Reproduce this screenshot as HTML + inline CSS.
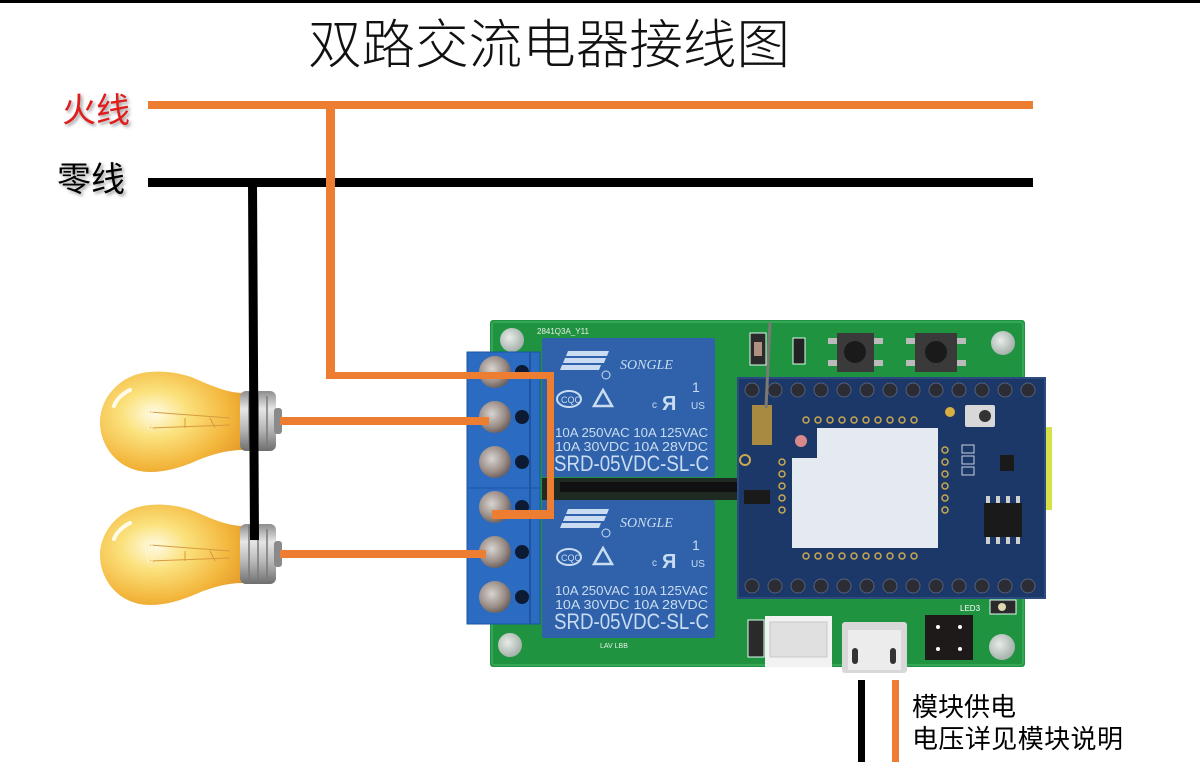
<!DOCTYPE html>
<html><head><meta charset="utf-8"><style>
html,body{margin:0;padding:0;background:#fff;}
svg{display:block;}
</style></head><body>
<svg width="1200" height="775" viewBox="0 0 1200 775" xmlns="http://www.w3.org/2000/svg">
<defs>
<radialGradient id="glass" cx="0.38" cy="0.42" r="0.75">
<stop offset="0" stop-color="#fffbe6"/>
<stop offset="0.3" stop-color="#fbe27e"/>
<stop offset="0.7" stop-color="#f3b63c"/>
<stop offset="1" stop-color="#e09325"/>
</radialGradient>
<linearGradient id="metal" x1="0" y1="0" x2="0" y2="1">
<stop offset="0" stop-color="#8c8c8c"/>
<stop offset="0.3" stop-color="#e6e6e6"/>
<stop offset="0.65" stop-color="#b4b4b4"/>
<stop offset="1" stop-color="#6e6e6e"/>
</linearGradient>
<radialGradient id="screw" cx="0.4" cy="0.4" r="0.7">
<stop offset="0" stop-color="#d8d4d0"/>
<stop offset="0.6" stop-color="#9a8c86"/>
<stop offset="1" stop-color="#5a5050"/>
</radialGradient>
<radialGradient id="hole" cx="0.4" cy="0.4" r="0.7">
<stop offset="0" stop-color="#e8ece8"/>
<stop offset="1" stop-color="#9aa8a0"/>
</radialGradient>
<filter id="sh" x="-20%" y="-20%" width="140%" height="140%"><feGaussianBlur stdDeviation="1.5"/></filter>
</defs>

<!-- top border -->
<rect x="0" y="0" width="1200" height="3" fill="#000"/>

<!-- title -->
<text x="308" y="63" font-family="'Liberation Sans','Noto Sans CJK SC',sans-serif" font-size="53" font-weight="300" textLength="482" lengthAdjust="spacingAndGlyphs" fill="#111">双路交流电器接线图</text>

<!-- labels -->
<text x="64" y="124" font-family="'Liberation Sans','Noto Sans CJK SC',sans-serif" font-size="34" fill="#999" filter="url(#sh)">火线</text>
<text x="62" y="122" font-family="'Liberation Sans','Noto Sans CJK SC',sans-serif" font-size="34" fill="#e01c1c">火线</text>
<text x="59" y="193" font-family="'Liberation Sans','Noto Sans CJK SC',sans-serif" font-size="34" fill="#999" filter="url(#sh)">零线</text>
<text x="57" y="191" font-family="'Liberation Sans','Noto Sans CJK SC',sans-serif" font-size="34" fill="#000">零线</text>

<!-- main lines -->
<rect x="148" y="101" width="885" height="8" fill="#ed7d31"/>
<rect x="148" y="178" width="885" height="9" fill="#000"/>
<rect x="326" y="105" width="9" height="274" fill="#ed7d31"/>

<!-- PCB -->
<rect x="490" y="320" width="535" height="347" rx="3" fill="#1f9340"/>
<rect x="492" y="322" width="531" height="343" rx="3" fill="none" stroke="#35a655" stroke-width="2"/>
<circle cx="512" cy="340" r="12" fill="url(#hole)"/>
<circle cx="510" cy="645" r="12" fill="url(#hole)"/>
<circle cx="1003" cy="343" r="12" fill="url(#hole)"/>
<circle cx="1002" cy="647" r="13" fill="url(#hole)"/>
<text x="537" y="334" font-family="'Liberation Sans',sans-serif" font-size="8" fill="#e8f0e8">2841Q3A_Y11</text>
<text x="600" y="648" font-family="'Liberation Sans',sans-serif" font-size="7" fill="#e8f0e8">LAV LBB</text>

<!-- LEDs / resistor near top -->
<rect x="750" y="333" width="16" height="32" fill="#2a2a2a" stroke="#dfe" stroke-width="1"/>
<rect x="754" y="342" width="8" height="14" fill="#b09080"/>
<rect x="793" y="338" width="12" height="26" fill="#222" stroke="#dfe" stroke-width="1"/>
<!-- buttons -->
<rect x="837" y="333" width="37" height="39" fill="#3a3a3a"/>
<circle cx="855" cy="352" r="11" fill="#1a1a1a"/>
<rect x="828" y="338" width="9" height="6" fill="#bbb"/><rect x="874" y="338" width="9" height="6" fill="#bbb"/>
<rect x="828" y="360" width="9" height="6" fill="#bbb"/><rect x="874" y="360" width="9" height="6" fill="#bbb"/>
<rect x="915" y="333" width="42" height="39" fill="#3a3a3a"/>
<circle cx="936" cy="352" r="11" fill="#1a1a1a"/>
<rect x="906" y="338" width="9" height="6" fill="#bbb"/><rect x="957" y="338" width="9" height="6" fill="#bbb"/>
<rect x="906" y="360" width="9" height="6" fill="#bbb"/><rect x="957" y="360" width="9" height="6" fill="#bbb"/>

<!-- bottom connectors -->
<rect x="748" y="620" width="16" height="37" fill="#2a2a2a" stroke="#dfe" stroke-width="1"/>
<rect x="765" y="616" width="67" height="51" fill="#f2f2f2"/>
<rect x="770" y="622" width="57" height="35" fill="#e0e0e0" stroke="#c8c8c8"/>
<rect x="842" y="622" width="65" height="51" rx="3" fill="#d8d8d8"/>
<rect x="848" y="630" width="53" height="40" fill="#ececec"/>
<rect x="852" y="648" width="6" height="16" rx="3" fill="#333"/>
<rect x="890" y="648" width="6" height="16" rx="3" fill="#333"/>
<rect x="925" y="615" width="48" height="45" fill="#1e1a1a"/>
<circle cx="938" cy="627" r="2" fill="#fff"/><circle cx="960" cy="627" r="2" fill="#fff"/>
<circle cx="938" cy="649" r="2" fill="#fff"/><circle cx="960" cy="649" r="2" fill="#fff"/>
<rect x="990" y="600" width="26" height="14" fill="#2a2a2a" stroke="#dfe" stroke-width="1"/>
<circle cx="1002" cy="607" r="4" fill="#e0d8b0"/>
<text x="960" y="611" font-family="'Liberation Sans',sans-serif" font-size="8" fill="#fff">LED3</text>

<!-- terminal block -->
<rect x="467" y="352" width="73" height="272" fill="#2b6cc2"/>
<rect x="467" y="352" width="73" height="272" fill="none" stroke="#1d55a0" stroke-width="1"/>
<line x1="530" y1="352" x2="530" y2="624" stroke="#1d55a0" stroke-width="2"/>
<line x1="467" y1="488" x2="540" y2="488" stroke="#1d55a0" stroke-width="1"/>
<g>
<circle cx="495" cy="372" r="16" fill="url(#screw)"/><circle cx="522" cy="372" r="7" fill="#0d1a33"/>
<circle cx="495" cy="417" r="16" fill="url(#screw)"/><circle cx="522" cy="417" r="7" fill="#0d1a33"/>
<circle cx="495" cy="462" r="16" fill="url(#screw)"/><circle cx="522" cy="462" r="7" fill="#0d1a33"/>
<circle cx="495" cy="507" r="16" fill="url(#screw)"/><circle cx="522" cy="507" r="7" fill="#0d1a33"/>
<circle cx="495" cy="552" r="16" fill="url(#screw)"/><circle cx="522" cy="552" r="7" fill="#0d1a33"/>
<circle cx="495" cy="597" r="16" fill="url(#screw)"/><circle cx="522" cy="597" r="7" fill="#0d1a33"/>
</g>

<!-- dark gap between relays -->
<rect x="542" y="478" width="200" height="22" fill="#1e2a22"/>
<rect x="560" y="482" width="180" height="10" fill="#111"/>

<!-- relay 1 -->
<g font-family="'Liberation Sans',sans-serif" fill="#c9dcf2">
<rect x="542" y="338" width="173" height="139" rx="2" fill="#2f62aa"/>
<polygon points="568,351 609,351 607,356 566,356" fill="#c9dcf2"/>
<polygon points="565,358 606,358 604,363 563,363" fill="#c9dcf2"/>
<polygon points="562,365 601,365 599,370 560,370" fill="#c9dcf2"/>
<circle cx="606" cy="375" r="4" fill="none" stroke="#c9dcf2" stroke-width="1"/>
<text x="620" y="369" font-family="'Liberation Serif',serif" font-style="italic" font-size="14">SONGLE</text>
<ellipse cx="569" cy="399" rx="12" ry="8" fill="none" stroke="#c9dcf2" stroke-width="2"/>
<text x="561" y="403" font-size="9">CQC</text>
<polygon points="594,406 603,390 612,406" fill="none" stroke="#c9dcf2" stroke-width="2.5"/>
<text x="652" y="408" font-size="10">c</text>
<text x="662" y="410" font-size="20" font-weight="bold">Я</text>
<text x="692" y="392" font-size="14">1</text>
<text x="691" y="409" font-size="10">US</text>
<text x="555" y="437" font-size="13" textLength="153" lengthAdjust="spacingAndGlyphs">10A 250VAC  10A 125VAC</text>
<text x="555" y="451" font-size="13" textLength="153" lengthAdjust="spacingAndGlyphs">10A  30VDC  10A  28VDC</text>
<text x="554" y="471" font-size="22" textLength="155" lengthAdjust="spacingAndGlyphs">SRD-05VDC-SL-C</text>
</g>
<!-- relay 2 -->
<g font-family="'Liberation Sans',sans-serif" fill="#c9dcf2" transform="translate(0,158)">
<rect x="542" y="342" width="173" height="138" rx="2" fill="#2f62aa"/>
<polygon points="568,351 609,351 607,356 566,356" fill="#c9dcf2"/>
<polygon points="565,358 606,358 604,363 563,363" fill="#c9dcf2"/>
<polygon points="562,365 601,365 599,370 560,370" fill="#c9dcf2"/>
<circle cx="606" cy="375" r="4" fill="none" stroke="#c9dcf2" stroke-width="1"/>
<text x="620" y="369" font-family="'Liberation Serif',serif" font-style="italic" font-size="14">SONGLE</text>
<ellipse cx="569" cy="399" rx="12" ry="8" fill="none" stroke="#c9dcf2" stroke-width="2"/>
<text x="561" y="403" font-size="9">CQC</text>
<polygon points="594,406 603,390 612,406" fill="none" stroke="#c9dcf2" stroke-width="2.5"/>
<text x="652" y="408" font-size="10">c</text>
<text x="662" y="410" font-size="20" font-weight="bold">Я</text>
<text x="692" y="392" font-size="14">1</text>
<text x="691" y="409" font-size="10">US</text>
<text x="555" y="437" font-size="13" textLength="153" lengthAdjust="spacingAndGlyphs">10A 250VAC  10A 125VAC</text>
<text x="555" y="451" font-size="13" textLength="153" lengthAdjust="spacingAndGlyphs">10A  30VDC  10A  28VDC</text>
<text x="554" y="471" font-size="22" textLength="155" lengthAdjust="spacingAndGlyphs">SRD-05VDC-SL-C</text>
</g>

<!-- module -->
<rect x="1044" y="427" width="8" height="83" fill="#d6e048"/>
<rect x="738" y="378" width="307" height="220" fill="#1c3868"/>
<rect x="738" y="378" width="307" height="220" fill="none" stroke="#2a4a80" stroke-width="2"/>
<g fill="#2c2c34" stroke="#55607a" stroke-width="1">
<circle cx="752" cy="390" r="7"/><circle cx="775" cy="390" r="7"/><circle cx="798" cy="390" r="7"/><circle cx="821" cy="390" r="7"/><circle cx="844" cy="390" r="7"/><circle cx="867" cy="390" r="7"/><circle cx="890" cy="390" r="7"/><circle cx="913" cy="390" r="7"/><circle cx="936" cy="390" r="7"/><circle cx="959" cy="390" r="7"/><circle cx="982" cy="390" r="7"/><circle cx="1005" cy="390" r="7"/><circle cx="1028" cy="390" r="7"/>
<circle cx="752" cy="586" r="7"/><circle cx="775" cy="586" r="7"/><circle cx="798" cy="586" r="7"/><circle cx="821" cy="586" r="7"/><circle cx="844" cy="586" r="7"/><circle cx="867" cy="586" r="7"/><circle cx="890" cy="586" r="7"/><circle cx="913" cy="586" r="7"/><circle cx="936" cy="586" r="7"/><circle cx="959" cy="586" r="7"/><circle cx="982" cy="586" r="7"/><circle cx="1005" cy="586" r="7"/><circle cx="1028" cy="586" r="7"/>
</g>
<!-- shield -->
<path d="M817,428 H938 V548 H792 V458 H817 Z" fill="#e4eaf0"/>
<g fill="none" stroke="#c8a850" stroke-width="1.5">
<circle cx="806" cy="420" r="3"/><circle cx="818" cy="420" r="3"/><circle cx="830" cy="420" r="3"/><circle cx="842" cy="420" r="3"/><circle cx="854" cy="420" r="3"/><circle cx="866" cy="420" r="3"/><circle cx="878" cy="420" r="3"/><circle cx="890" cy="420" r="3"/><circle cx="902" cy="420" r="3"/><circle cx="914" cy="420" r="3"/>
<circle cx="806" cy="556" r="3"/><circle cx="818" cy="556" r="3"/><circle cx="830" cy="556" r="3"/><circle cx="842" cy="556" r="3"/><circle cx="854" cy="556" r="3"/><circle cx="866" cy="556" r="3"/><circle cx="878" cy="556" r="3"/><circle cx="890" cy="556" r="3"/><circle cx="902" cy="556" r="3"/><circle cx="914" cy="556" r="3"/>
<circle cx="945" cy="450" r="3"/><circle cx="945" cy="462" r="3"/><circle cx="945" cy="474" r="3"/><circle cx="945" cy="486" r="3"/><circle cx="945" cy="498" r="3"/><circle cx="945" cy="510" r="3"/>
<circle cx="782" cy="462" r="3"/><circle cx="782" cy="474" r="3"/><circle cx="782" cy="486" r="3"/><circle cx="782" cy="498" r="3"/><circle cx="782" cy="510" r="3"/>
</g>
<circle cx="801" cy="441" r="6" fill="#d88a8a"/>
<rect x="752" y="405" width="20" height="40" fill="#a88a40"/>
<circle cx="745" cy="460" r="5" fill="none" stroke="#c8a850" stroke-width="2"/>
<line x1="770" y1="322" x2="766" y2="408" stroke="#7a7a72" stroke-width="3"/>
<circle cx="950" cy="412" r="5" fill="#d8b040"/>
<rect x="965" y="405" width="30" height="22" rx="2" fill="#d8d8d8"/>
<circle cx="985" cy="416" r="6" fill="#333"/>
<rect x="984" y="503" width="38" height="34" fill="#1a1a1a"/>
<g fill="#d0d0d0"><rect x="986" y="496" width="4" height="7"/><rect x="996" y="496" width="4" height="7"/><rect x="1006" y="496" width="4" height="7"/><rect x="1016" y="496" width="4" height="7"/>
<rect x="986" y="537" width="4" height="7"/><rect x="996" y="537" width="4" height="7"/><rect x="1006" y="537" width="4" height="7"/><rect x="1016" y="537" width="4" height="7"/></g>
<rect x="1000" y="455" width="14" height="16" fill="#1a1a1a"/>
<rect x="744" y="490" width="26" height="14" fill="#1a1a1a"/>
<g fill="none" stroke="#c8d0e0" stroke-width="1"><rect x="962" y="445" width="12" height="8"/><rect x="962" y="456" width="12" height="8"/><rect x="962" y="467" width="12" height="8"/></g>

<!-- bulbs -->
<g>
<path d="M243,393 C228,393 212,386 196,379 C180,372 162,371 150,372 C120,374 100,398 100,422 C100,448 120,472 150,472 C165,472 180,468 196,461 C212,454 228,450 243,450 Z" fill="url(#glass)"/>
<path d="M130,390 C122,394 116,400 114,406" stroke="#fffbe8" stroke-width="4" fill="none" stroke-linecap="round"/>
<path d="M150,412 L230,418 M150,428 L230,425 M185,418 L185,428 M210,418 L215,428" stroke="#d89a40" stroke-width="1" fill="none"/>
<ellipse cx="150" cy="420" rx="4" ry="9" fill="none" stroke="#fff3c0" stroke-width="1"/>
<rect x="240" y="391" width="36" height="60" rx="6" fill="url(#metal)"/>
<g fill="none" stroke="#7a7a7a" stroke-width="1.5"><line x1="249" y1="392" x2="249" y2="450"/><line x1="258" y1="394" x2="258" y2="448"/><line x1="267" y1="396" x2="267" y2="446"/></g>
<rect x="274" y="408" width="8" height="26" rx="3" fill="#8a8a8a"/>
</g>
<g transform="translate(0,133)">
<path d="M243,393 C228,393 212,386 196,379 C180,372 162,371 150,372 C120,374 100,398 100,422 C100,448 120,472 150,472 C165,472 180,468 196,461 C212,454 228,450 243,450 Z" fill="url(#glass)"/>
<path d="M130,390 C122,394 116,400 114,406" stroke="#fffbe8" stroke-width="4" fill="none" stroke-linecap="round"/>
<path d="M150,412 L230,418 M150,428 L230,425 M185,418 L185,428 M210,418 L215,428" stroke="#d89a40" stroke-width="1" fill="none"/>
<ellipse cx="150" cy="420" rx="4" ry="9" fill="none" stroke="#fff3c0" stroke-width="1"/>
<rect x="240" y="391" width="36" height="60" rx="6" fill="url(#metal)"/>
<g fill="none" stroke="#7a7a7a" stroke-width="1.5"><line x1="249" y1="392" x2="249" y2="450"/><line x1="258" y1="394" x2="258" y2="448"/><line x1="267" y1="396" x2="267" y2="446"/></g>
<rect x="274" y="408" width="8" height="26" rx="3" fill="#8a8a8a"/>
</g>

<!-- neutral drop -->
<polygon points="248,183 257,183 259,540 250,540" fill="#000"/>

<!-- orange wires on board -->
<rect x="326" y="372" width="228" height="7" fill="#ed7d31"/>
<rect x="547" y="372" width="7" height="147" fill="#ed7d31"/>
<rect x="492" y="510" width="62" height="9" fill="#ed7d31"/>
<rect x="280" y="417" width="209" height="8" fill="#ed7d31"/>
<rect x="280" y="550" width="206" height="8" fill="#ed7d31"/>

<!-- power leads -->
<rect x="858" y="680" width="7" height="82" fill="#000"/>
<rect x="892" y="680" width="7" height="82" fill="#ed7d31"/>
<text x="912" y="716" font-family="'Liberation Sans','Noto Sans CJK SC',sans-serif" font-size="26" fill="#000">模块供电</text>
<text x="912" y="748" font-family="'Liberation Sans','Noto Sans CJK SC',sans-serif" font-size="26" textLength="211" lengthAdjust="spacing" fill="#000">电压详见模块说明</text>
</svg>
</body></html>
